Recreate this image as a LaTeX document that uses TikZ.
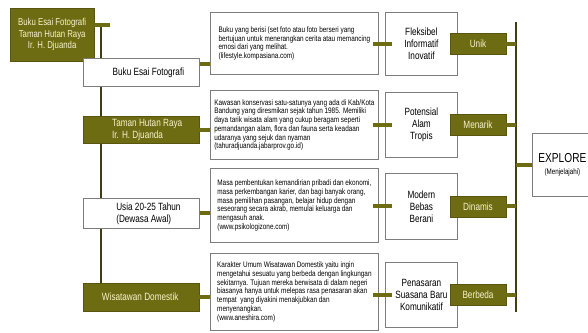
\documentclass[tikz,border=0pt]{standalone}
\usepackage{fontspec}
\setmainfont{Liberation Sans}[FakeStretch=0.78]
\newfontfamily\descfont{Liberation Sans}[FakeStretch=0.8]
\usetikzlibrary{positioning,calc,backgrounds}
\definecolor{olivefill}{RGB}{110,108,18}
\definecolor{oliveline}{RGB}{66,62,18}
\definecolor{creamtext}{RGB}{246,243,205}
\definecolor{boxgrey}{RGB}{125,125,125}
\tikzset{
  olivebox/.style={fill=olivefill,draw=olivefill!80!black,text=creamtext,align=center},
  whitebox/.style={fill=white,draw=boxgrey,line width=0.8pt,align=center},
  leftbox/.style={anchor=north west,minimum width=116pt,align=left},
  descbox/.style={whitebox,anchor=north west,align=left,minimum width=168pt,font=\descfont\fontsize{8}{8.7}\selectfont},
  traitbox/.style={whitebox,anchor=north west,minimum width=72pt,font=\fontsize{10.5}{12}\selectfont},
  tagbox/.style={olivebox,anchor=west,xshift=-8pt,minimum width=56pt,minimum height=21pt,font=\fontsize{10.5}{12}\selectfont},
  bar/.style={draw=olivefill,line width=4pt},
  spine/.style={draw=oliveline,line width=1.6pt}
}
\begin{document}
\begin{tikzpicture}[x=1pt,y=-1pt,every node/.style={inner sep=0pt,font=\fontsize{10.5}{12}\selectfont}]
\useasboundingbox (0,0) rectangle (588,332);
% left column
\node[olivebox,anchor=north west,minimum width=84pt,minimum height=53pt,font=\fontsize{10}{11.5}\selectfont] (title) at (10,8) {Buku Esai Fotografi\\Taman Hutan Raya\\Ir. H. Djuanda};
\coordinate (ltop) at (101,25);
\coordinate (tend) at (110,25);
\node[whitebox,leftbox,minimum height=28pt] (buku) at (83,58) {\hspace*{14pt}Buku Esai Fotografi};
\node[olivebox,leftbox,minimum height=27pt] (taman) at (83,116) {\hspace*{12pt}Taman Hutan Raya\\\hspace*{12pt}Ir. H. Djuanda};
\node[whitebox,leftbox,minimum height=30pt] (usia) at (83,198) {\hspace*{14pt}Usia 20-25 Tahun\\\hspace*{14pt}(Dewasa Awal)};
\node[olivebox,leftbox,minimum height=28pt] (wisata) at (83,283) {\hspace*{-2pt}Wisatawan Domestik};
% descriptions
\node[descbox,minimum height=62pt] (d1) at (210,12) {Buku yang berisi (set foto atau foto berseri yang\\bertujuan untuk menerangkan cerita atau memancing\\emosi dari yang melihat.\\(lifestyle.kompasiana.com)};
\node[descbox,minimum height=69pt] (d2) at (210,90) {Kawasan konservasi satu-satunya yang ada di Kab/Kota\\Bandung yang diresmikan sejak tahun 1985. Memiliki\\daya tarik wisata alam yang cukup beragam seperti\\pemandangan alam, flora dan fauna serta keadaan\\udaranya yang sejuk dan nyaman\\(tahuradjuanda.jabarprov.go.id)};
\node[descbox,minimum height=74pt] (d3) at (210,168) {Masa pembentukan kemandirian pribadi dan ekonomi,\\masa perkembangan karier, dan bagi banyak orang,\\masa pemilihan pasangan, belajar hidup dengan\\seseorang secara akrab, memulai keluarga dan\\mengasuh anak.\\(www.psikologizone.com)};
\node[descbox,minimum height=77pt] (d4) at (210,253) {Karakter Umum Wisatawan Domestik yaitu ingin\\mengetahui sesuatu yang berbeda dengan lingkungan\\sekitarnya. Tujuan mereka berwisata di dalam negeri\\biasanya hanya untuk melepas rasa penasaran akan\\tempat\ \ yang diyakini menakjubkan dan\\menyenangkan.\\(www.aneshira.com)};
% traits
\node[traitbox,minimum height=63pt] (f1) at (385,12) {Fleksibel\\Informatif\\Inovatif};
\node[traitbox,minimum height=65pt] (f2) at (385,92) {Potensial\\Alam\\Tropis};
\node[traitbox,minimum height=66pt] (f3) at (385,173) {Modern\\Bebas\\Berani};
\node[traitbox,minimum height=65pt] (f4) at (385,262) {Penasaran\\Suasana Baru\\Komunikatif};
\node[tagbox] (t1) at (f1.east) {Unik};
\node[tagbox] (t2) at (f2.east) {Menarik};
\node[tagbox] (t3) at (f3.east) {Dinamis};
\node[tagbox] (t4) at (f4.east) {Berbeda};
% right side
\coordinate (rtop) at (516,22);
\coordinate (rbot) at (516,312);
\node[whitebox,anchor=north west,minimum width=60pt,minimum height=63pt] (explore) at (532,133) {{\fontsize{13}{14}\selectfont EXPLORE}\\{\fontsize{8}{9}\selectfont (Menjelajahi)}};
\begin{scope}[on background layer]
\draw[spine] (ltop) -- (ltop |- wisata.north);
\draw[spine] (rtop) -- (rbot);
\end{scope}
% connectors
\draw[bar] (title.east |- ltop) -- (tend);
\draw[bar] ($(buku.east)+(0,-8)$) -- ($(buku.east -| d1.west)+(0,-8)$);
\draw[bar] (taman.east) -- (taman.east -| d2.west);
\draw[bar] (usia.east) -- (usia.east -| d3.west);
\draw[bar] (wisata.east) -- (wisata.east -| d4.west);
\draw[bar] ($(d1.east |- f1.west)+(-6,0)$) -- ($(f1.west)+(7,0)$);
\draw[bar] ($(d2.east |- f2.west)+(-6,0)$) -- ($(f2.west)+(7,0)$);
\draw[bar] ($(d3.east |- f3.west)+(-6,0)$) -- ($(f3.west)+(7,0)$);
\draw[bar] ($(d4.east |- f4.west)+(-6,0)$) -- ($(f4.west)+(7,0)$);
\draw[bar] (t1.east) -- (t1.east -| rtop);
\draw[bar] (t2.east) -- (t2.east -| rtop);
\draw[bar] (t3.east) -- (t3.east -| rtop);
\draw[bar] (t4.east) -- (t4.east -| rtop);
\draw[bar] (explore.west) -- (explore.west -| rtop);
\end{tikzpicture}
\end{document}
